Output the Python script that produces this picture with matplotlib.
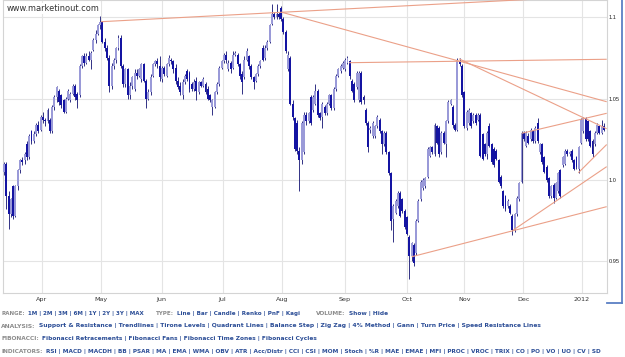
import matplotlib
matplotlib.use('Agg')
import matplotlib.pyplot as plt
import numpy as np
from matplotlib.lines import Line2D

# ---------------- data (price x 10000) ----------------
opens = [10050,10100,9900,9790,9960,9780,9960,10060,10120,10120,
         10220,10140,10300,10240,10280,10340,10310,10390,10370,10360,
         10370,10300,10450,10510,10550,10520,10490,10420,10500,10490,
         10530,10580,10530,10520,10700,10760,10720,10760,10740,10800,
         10860,10900,10950,10970,10850,10810,10750,10580,10700,10740,
         10810,10870,10700,10590,10680,10520,10580,10560,10660,10640,
         10620,10710,10610,10500,10540,10640,10710,10730,10700,10620,
         10690,10640,10710,10740,10730,10690,10610,10580,10520,10600,
         10670,10660,10590,10560,10610,10540,10600,10580,10590,10560,
         10520,10450,10450,10540,10590,10690,10730,10770,10680,10720,
         10690,10770,10770,10710,10650,10630,10740,10760,10700,10630,
         10610,10650,10700,10810,10750,10810,10850,10960,11020,11000,
         11020,11060,10990,10910,10680,10750,10470,10380,10350,10180,
         10120,10170,10400,10360,10510,10430,10470,10550,10410,10390,
         10450,10410,10470,10520,10440,10560,10640,10670,10690,10680,
         10720,10730,10610,10590,10570,10490,10660,10510,10430,10350,
         10310,10270,10270,10330,10370,10300,10220,10290,10170,10040,
         9760,9800,9840,9920,9880,9810,9770,9650,9530,9600,
         9550,9750,9880,9950,9960,10020,10150,10200,10160,10330,
         10320,10170,10290,10220,10360,10470,10450,10340,10310,10730,
         10700,10540,10320,10350,10410,10360,10400,10370,10400,10280,
         10220,10160,10330,10220,10190,10180,10120,10020,9930,9900,
         9840,9840,9780,9690,9790,9880,9990,10290,10210,10270,
         10250,10300,10240,10350,10170,10220,10140,10080,10010,9900,
         9970,9890,9930,10060,10090,10100,10180,10160,10180,10120,
         10140,10070,10230,10300,10380,10360,10300,10240,10220,10290,
         10330,10290,10330]
highs = [10110,10110,9930,9890,9970,9970,10070,10130,10140,10170,
         10240,10280,10310,10300,10350,10360,10400,10420,10380,10440,
         10380,10460,10520,10580,10560,10530,10500,10510,10560,10540,
         10590,10590,10540,10710,10770,10780,10780,10790,10790,10870,
         10920,10960,11010,10980,10870,10830,10770,10720,10750,10820,
         10890,10890,10710,10690,10690,10600,10640,10680,10680,10690,
         10720,10720,10620,10560,10650,10720,10740,10750,10760,10700,
         10700,10720,10770,10750,10740,10710,10630,10600,10620,10650,
         10680,10670,10600,10620,10630,10610,10610,10630,10600,10580,
         10530,10500,10550,10600,10700,10740,10780,10790,10740,10730,
         10790,10790,10780,10720,10670,10760,10810,10770,10710,10640,
         10660,10710,10740,10830,10830,10860,10960,11080,11030,11080,
         11030,11070,11000,10920,10790,10760,10490,10390,10370,10200,
         10360,10420,10420,10420,10520,10520,10590,10560,10420,10480,
         10460,10480,10530,10530,10570,10650,10690,10710,10730,10750,
         10760,10740,10620,10600,10670,10670,10670,10520,10440,10360,
         10330,10360,10340,10400,10380,10310,10300,10300,10180,10050,
         9850,9880,9930,9930,9890,9820,9780,9660,9620,9610,
         9760,9880,10000,10010,10020,10200,10210,10210,10350,10340,
         10330,10300,10300,10370,10490,10500,10460,10350,10750,10750,
         10710,10550,10430,10440,10420,10410,10410,10410,10410,10290,
         10230,10300,10350,10230,10200,10190,10130,10030,9940,9910,
         9880,9850,9790,9800,9900,9990,10300,10300,10300,10290,
         10320,10310,10330,10380,10230,10230,10150,10090,10020,9970,
         9980,9990,10050,10070,10150,10190,10190,10180,10190,10130,
         10150,10210,10380,10390,10390,10370,10310,10250,10300,10350,
         10340,10370,10350]
lows = [10030,9820,9700,9770,9760,9770,9940,10040,10090,10100,
        10120,10130,10220,10230,10270,10290,10300,10350,10330,10350,
        10290,10290,10430,10480,10460,10440,10410,10410,10490,10480,
        10520,10490,10440,10510,10690,10700,10710,10730,10680,10790,
        10840,10890,10930,10840,10790,10740,10540,10560,10680,10720,
        10800,10690,10570,10570,10500,10500,10560,10550,10620,10630,
        10600,10600,10440,10490,10520,10630,10700,10690,10610,10600,
        10640,10630,10700,10710,10660,10590,10560,10520,10500,10590,
        10610,10540,10550,10550,10490,10530,10570,10570,10530,10490,
        10480,10400,10440,10530,10580,10680,10720,10720,10670,10660,
        10680,10760,10700,10620,10530,10620,10730,10680,10620,10560,
        10600,10640,10690,10730,10740,10800,10840,10950,10990,10990,
        10990,10980,10900,10780,10670,10460,10370,10180,10160,9930,
        10100,10160,10340,10350,10340,10420,10460,10390,10370,10320,
        10400,10400,10460,10430,10430,10550,10630,10660,10680,10670,
        10710,10620,10540,10480,10560,10480,10470,10470,10340,10170,
        10290,10260,10260,10320,10290,10160,10210,10160,10030,9690,
        9620,9790,9830,9770,9800,9700,9660,9390,9500,9470,
        9540,9740,9870,9940,9950,10010,10140,10160,10150,10220,
        10140,10160,10220,10140,10350,10460,10320,10300,10300,10700,
        10510,10320,10310,10340,10320,10350,10340,10360,10140,10120,
        10150,10130,10200,10100,10080,10120,9980,9950,9830,9810,
        9830,9790,9660,9680,9780,9870,9980,10240,10200,10220,
        10240,10230,10230,10230,10160,10100,10040,9990,9890,9890,
        9860,9880,9920,9890,10080,10090,10150,10150,10110,10060,
        10070,10040,10220,10290,10240,10240,10200,10140,10210,10280,
        10280,10280,10300]
closes = [10100,9900,9790,9880,9780,9960,10060,10120,10110,10160,
          10140,10270,10240,10280,10340,10300,10390,10370,10360,10430,
          10300,10450,10510,10570,10480,10460,10420,10500,10550,10530,
          10580,10510,10490,10700,10760,10720,10760,10740,10780,10860,
          10900,10950,10970,10850,10810,10750,10580,10700,10740,10810,
          10870,10700,10590,10680,10520,10580,10630,10660,10640,10680,
          10710,10610,10500,10540,10630,10710,10730,10710,10630,10690,
          10650,10710,10750,10730,10680,10610,10570,10540,10600,10640,
          10620,10560,10560,10600,10550,10600,10580,10620,10540,10500,
          10490,10490,10540,10590,10690,10730,10770,10740,10720,10680,
          10770,10780,10710,10640,10600,10740,10790,10700,10630,10600,
          10650,10700,10730,10740,10810,10850,10950,11020,11000,11020,
          11000,10990,10910,10790,10770,10470,10390,10190,10180,10120,
          10350,10400,10360,10410,10350,10510,10550,10400,10380,10470,
          10410,10470,10520,10440,10560,10640,10680,10700,10720,10740,
          10750,10640,10550,10490,10660,10660,10480,10490,10350,10200,
          10320,10350,10330,10390,10300,10220,10290,10170,10040,9750,
          9840,9870,9920,9780,9810,9710,9670,9530,9610,9490,
          9750,9870,9990,10000,10010,10190,10200,10170,10340,10230,
          10160,10290,10230,10360,10480,10490,10340,10310,10740,10710,
          10520,10330,10420,10430,10330,10400,10350,10400,10150,10130,
          10160,10290,10210,10110,10090,10130,9990,9960,9840,9820,
          9870,9800,9690,9790,9890,9980,10290,10250,10290,10230,
          10310,10240,10320,10240,10220,10110,10050,10000,9900,9960,
          9890,9980,10040,9900,10140,10180,10160,10170,10120,10070,
          10080,10200,10370,10380,10250,10250,10210,10160,10290,10340,
          10290,10330,10310]

month_labels = ['Apr', 'May', 'Jun', 'Jul', 'Aug', 'Sep', 'Oct', 'Nov', 'Dec', '2012']
month_pos = [16.5, 42.2, 68.9, 95.5, 121.3, 148.9, 175.9, 201.0, 226.8, 252.3]
y_ticks = [0.95, 1.0, 1.05, 1.1]
y_labels = ['0.95', '1.0', '1.05', '1.1']

# trendlines: (x0, y0, x1, y1)
trend_lines = [
    (42.4, 1.0973, 263.2, 1.1135),
    (121.3, 1.1031, 263.2, 1.0481),
    (150.7, 1.0721, 263.2, 1.0742),
    (198.7, 1.0745, 263.2, 1.0315),
    (226.1, 1.0287, 263.2, 1.0410),
    (178.0, 0.9528, 263.2, 0.9836),
    (222.4, 0.9692, 263.2, 1.0082),
    (250.8, 1.0044, 263.2, 1.0218),
]

# ---------------- figure ----------------
W, H = 625, 357
fig = plt.figure(figsize=(W / 100, H / 100), dpi=100)
fig.patch.set_facecolor('white')
ax = fig.add_axes([2.7 / W, 1 - 293 / H, (606.7 - 2.7) / W, 293 / H])
ax.set_facecolor('white')

o = np.array(opens) / 1e4
h = np.array(highs) / 1e4
l = np.array(lows) / 1e4
c = np.array(closes) / 1e4
x = np.arange(len(c))
up = c >= o

ax.vlines(x, l, h, colors='#23237c', linewidth=0.65, zorder=2)
bottom = np.minimum(o, c)
height = np.maximum(np.abs(c - o), 0.0005)
ax.bar(x[up], height[up], bottom=bottom[up], width=0.85, color='#9a9ad8', linewidth=0, zorder=3)
ax.bar(x[~up], height[~up], bottom=bottom[~up], width=0.85, color='#1414a2', linewidth=0, zorder=3)

for (x0, y0, x1, y1) in trend_lines:
    ax.plot([x0, x1], [y0, y1], color='#eba088', linewidth=0.8, zorder=4, solid_capstyle='butt')

ax.set_xlim(-0.57, 263.2)
ax.set_ylim(0.93052, 1.11064)
ax.set_xticks(month_pos)
ax.set_xticklabels(month_labels)
ax.set_yticks(y_ticks)
ax.set_yticklabels(y_labels, family='Liberation Sans')
ax.yaxis.tick_right()
ax.tick_params(axis='x', length=0, pad=3.0, labelsize=4.6, labelcolor='#333333')
ax.tick_params(axis='y', length=0, pad=1.4, labelsize=4.1, labelcolor='#222222')
ax.grid(True, color='#e4e4e4', linewidth=0.8)
ax.set_axisbelow(True)
for s in ax.spines.values():
    s.set_color('#d4d4d4')
    s.set_linewidth(0.8)

renderer = fig.canvas.get_renderer()


def measure(txt, size, weight='bold'):
    t = fig.text(0, 0, txt, fontsize=size, fontweight=weight, family='DejaVu Sans')
    w = t.get_window_extent(renderer).width
    t.remove()
    return w


# site label
site = 'www.marketinout.com'
s_size = 5.5 * 93.0 / measure(site, 5.5, 'normal')
fig.text(7 / W, 1 - 8.5 / H, site, fontsize=s_size, color='#333333', family='DejaVu Sans',
         va='center', ha='left', bbox=dict(facecolor='white', edgecolor='none', pad=0.5))

# bottom menu lines: (y, [(x_start, x_end, label, links)])
GRAY = '#8c8c8c'
BLUE = '#2b4d96'
GAP = 3.5
lines = [
    (313.3, [(1, 146, 'RANGE:', '1M | 2M | 3M | 6M | 1Y | 2Y | 3Y | MAX'),
             (156, 302, 'TYPE:', 'Line | Bar | Candle | Renko | PnF | Kagi'),
             (316, 389, 'VOLUME:', 'Show | Hide')]),
    (326.0, [(1, 546.7, 'ANALYSIS:', 'Support & Resistance | Trendlines | Tirone Levels | Quadrant Lines | '
                                     'Balance Step | Zig Zag | 4% Method | Gann | Turn Price | Speed Resistance Lines')]),
    (338.7, [(1, 320, 'FIBONACCI:', 'Fibonacci Retracements | Fibonacci Fans | Fibonacci Time Zones | Fibonacci Cycles')]),
    (351.3, [(1, 613, 'INDICATORS:', 'RSI | MACD | MACDH | BB | PSAR | MA | EMA | WMA | OBV | ATR | Acc/Distr | '
                                     'CCI | CSI | MOM | Stoch | %R | MAE | EMAE | MFI | PROC | VROC | TRIX | CO | '
                                     'PO | VO | UO | CV | SD')]),
]

for y_px, groups in lines:
    for x0, x1, lab, links in groups:
        w5 = measure(lab, 5) + measure(links, 5)
        size = 5 * (x1 - x0 - GAP) / w5
        t = fig.text(x0 / W, 1 - y_px / H, lab, fontsize=size, fontweight='bold', color=GRAY,
                     family='DejaVu Sans', va='center', ha='left')
        wl = t.get_window_extent(renderer).width
        fig.text((x0 + wl + GAP) / W, 1 - y_px / H, links, fontsize=size, fontweight='bold',
                 color=BLUE, family='DejaVu Sans', va='center', ha='left')

# blue frame at right
fig.add_artist(Line2D([622 / W, 622 / W], [1, 1 - 303 / H], color='#5a7fc4', linewidth=1.3))
fig.add_artist(Line2D([607 / W, 622 / W], [1 - 303 / H, 1 - 303 / H], color='#5a7fc4', linewidth=1.3))

fig.savefig('out.png', dpi=100, facecolor='white')
